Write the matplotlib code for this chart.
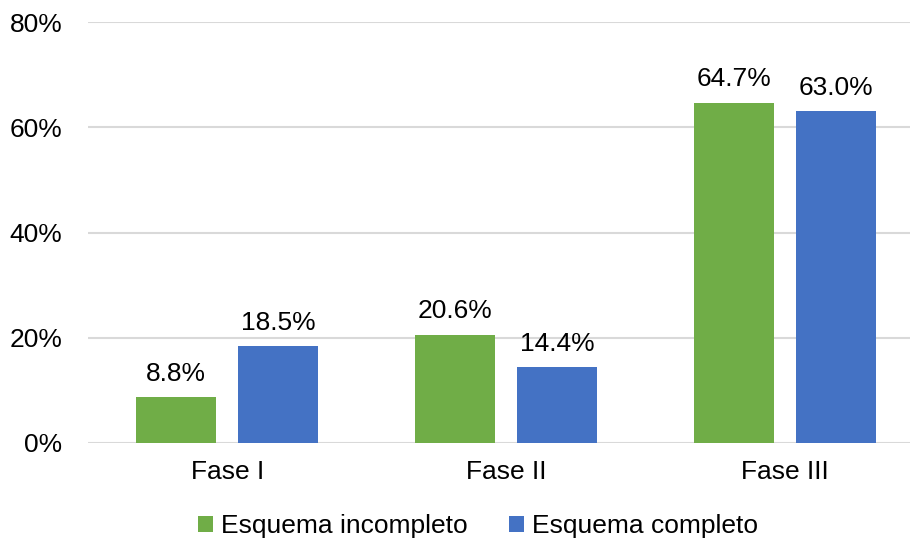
import numpy as np
import matplotlib.pyplot as plt
from matplotlib.ticker import PercentFormatter

plt.rcParams['font.family'] = ['Liberation Sans', 'DejaVu Sans']

fases = ['Fase I', 'Fase II', 'Fase III']
incompleto = [8.8, 20.6, 64.7]
completo = [18.5, 14.4, 63.0]
series_names = ['Esquema incompleto', 'Esquema completo']
colors = ['#70AD47', '#4472C4']

fig = plt.figure(figsize=(9.1, 5.44), dpi=100)
# plot area runs a little past the right edge of the figure
ax = fig.add_axes([88/910, 1-443/544, (924-88)/910, (443-22)/544])

x = np.arange(len(fases))
w = 0.287
gap = 0.079
off = (w + gap) / 2

b1 = ax.bar(x - off, incompleto, w, color=colors[0], label=series_names[0], zorder=3)
b2 = ax.bar(x + off, completo, w, color=colors[1], label=series_names[1], zorder=3)

for bars, vals in [(b1, incompleto), (b2, completo)]:
    for rect, v in zip(bars, vals):
        ax.annotate(f'{v:.1f}%', (rect.get_x() + rect.get_width()/2, v),
                    xytext=(0, 8), textcoords='offset points',
                    ha='center', va='bottom', fontsize=19, color='#000000')

ax.set_ylim(0, 80)
ax.set_xlim(-0.5, 2.5)
ax.set_yticks(range(0, 81, 20))
ax.yaxis.set_major_formatter(PercentFormatter(decimals=0))
ax.set_xticks(x)
ax.set_xticklabels(fases)
ax.tick_params(axis='both', length=0, labelsize=19, colors='#000000')
ax.tick_params(axis='y', pad=18.5)
ax.tick_params(axis='x', pad=12)
ax.grid(axis='y', color='#D9D9D9', linewidth=1.5, zorder=0)
for s in ax.spines.values():
    s.set_visible(False)

h, l = ax.get_legend_handles_labels()
fig.legend(h, l, loc='center', bbox_to_anchor=(478/910, 1-526/544), ncol=2, frameon=False,
           fontsize=19, handlelength=0.55, handleheight=0.55, handletextpad=0.3,
           columnspacing=1.6)

fig.savefig('out.png', dpi=100)
